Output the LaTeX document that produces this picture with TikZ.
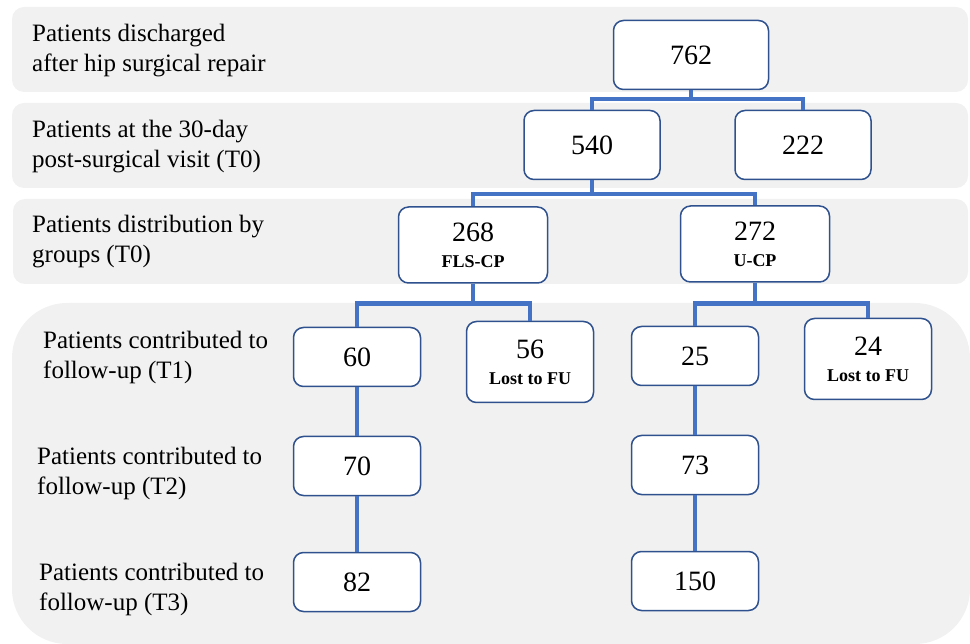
\documentclass[tikz,border=0pt]{standalone}
\usepackage{fontspec}
\setmainfont{Liberation Serif}
\definecolor{bandgray}{HTML}{F1F1F1}
\definecolor{boxline}{HTML}{2F528F}
\definecolor{linkblue}{HTML}{4472C4}
\newcommand{\boxnote}[1]{{\fontsize{18}{26}\selectfont\bfseries #1}}

\begin{document}
\begin{tikzpicture}[x=1pt, y=-1pt]
	\tikzstyle{band} = [fill=bandgray, rounded corners=12pt];
	\tikzstyle{lbl} = [anchor=west, align=left, inner sep=0pt, font={\fontsize{25}{30}\selectfont}];
	\tikzstyle{numbox} = [draw=boxline, fill=white, line width=1.5pt, rounded corners=10pt, minimum width=127pt, minimum height=59pt, inner sep=0pt, align=center, font={\fontsize{28}{26}\selectfont}];
	\tikzstyle{link} = [draw=linkblue, line width=4.5pt];

	\useasboundingbox (0,0) rectangle (970,644);

	% grey bands
	\fill[band] (12,7) rectangle (968,92);
	\fill[band] (12,103) rectangle (968,188);
	\fill[band] (13,199) rectangle (968,284);
	\fill[band, rounded corners=55pt] (12,303) rectangle (970,644);

	% row labels
	\node[lbl] (l0) at (32,51) {Patients discharged\\after hip surgical repair};
	\node[lbl] (l1) at (32,147) {Patients at the 30-day\\post-surgical visit (T0)};
	\node[lbl] (l2) at (32,242) {Patients distribution by\\groups (T0)};
	\node[lbl] (l3) at (43,357) {Patients contributed to\\follow-up (T1)};
	\node[lbl] (l4) at (37,473) {Patients contributed to\\follow-up (T2)};
	\node[lbl] (l5) at (39,589) {Patients contributed to\\follow-up (T3)};

	% counts
	\node[numbox, minimum width=155pt, minimum height=69pt] (n762) at (691,55) {762};
	\node[numbox, minimum width=136pt, minimum height=69pt] (n540) at (592,145) {540};
	\node[numbox, minimum width=136pt, minimum height=69pt] (n222) at (803,145) {222};
	\node[numbox, minimum width=149pt, minimum height=76pt] (n268) at (473,245) {268\\\boxnote{FLS-CP}};
	\node[numbox, minimum width=149pt, minimum height=76pt] (n272) at (755,244) {272\\\boxnote{U-CP}};
	\node[numbox] (n60) at (357,357) {60};
	\node[numbox, minimum height=81pt] (n56) at (530,362) {56\\\boxnote{Lost to FU}};
	\node[numbox] (n70) at (357,466) {70};
	\node[numbox] (n82) at (357,582) {82};
	\node[numbox] (n25) at (695,356) {25};
	\node[numbox, minimum height=81pt] (n24) at (868,359) {24\\\boxnote{Lost to FU}};
	\node[numbox] (n73) at (695,465) {73};
	\node[numbox] (n150) at (695,581) {150};

	% tree connectors
	\draw[link] (n762.south) -- ++(0,9) coordinate (j762);
	\draw[link] (n540.north) |- (j762) -| (n222.north);
	\draw[link] (n540.south) -- ++(0,14) coordinate (j540);
	\draw[link] (n268.north) |- (j540) -| (n272.north);
	\draw[link] (n268.south) -- ++(0,20) coordinate (j268);
	\draw[link] (n60.north) |- (j268) -| (n56.north);
	\draw[link] (n272.south) -- ++(0,21) coordinate (j272);
	\draw[link] (n25.north) |- (j272) -| (n24.north);

	\foreach \a/\b in {n60/n70, n70/n82, n25/n73, n73/n150} {
		\draw[link] (\a.south) -- (\b.north);
	}
\end{tikzpicture}
\end{document}
